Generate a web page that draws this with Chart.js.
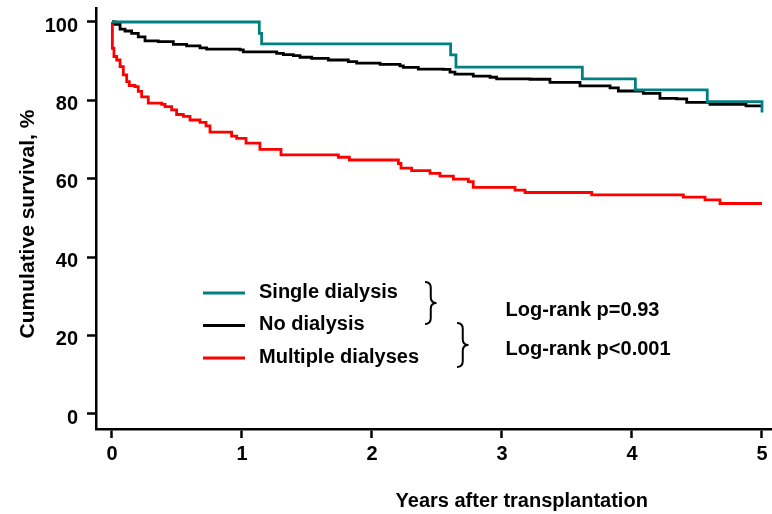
<!DOCTYPE html>
<html>
<head>
<meta charset="utf-8">
<script src="https://cdn.jsdelivr.net/npm/chart.js@4.4.1/dist/chart.umd.min.js"></script>
<style>
  html, body { margin: 0; padding: 0; background: #ffffff; }
  #wrap { width: 772px; height: 514px; }
</style>
</head>
<body>
<div id="wrap"><canvas id="c" width="772" height="514"></canvas></div>
<script>
// ---------------- data ----------------
const seriesLabels = ["Single dialysis", "No dialysis", "Multiple dialyses"];
const seriesColors = ["#008080", "#000000", "#ff0000"];

const singleT = [0, 1.133, 1.151, 2.605, 2.646, 3.618, 4.026, 4.579, 5.0];
const singleS = [100, 97.1, 94.4, 91.6, 88.5, 85.5, 82.7, 79.7, 76.9];

const noT = [0, 0.023, 0.062, 0.1, 0.151, 0.202, 0.254, 0.356, 0.472, 0.574, 0.677, 0.728,
  0.985, 1.01, 1.267, 1.318, 1.395, 1.446, 1.536, 1.664, 1.818, 1.882, 2.062, 2.215, 2.241,
  2.356, 2.549, 2.6, 2.638, 2.779, 2.908, 2.959, 3.215, 3.369, 3.6, 3.831, 3.895, 4.087,
  4.215, 4.344, 4.421, 4.6, 4.877, 5.0];
const noS = [100, 99.4, 98.2, 97.7, 97.1, 96.2, 95.2, 95.0, 94.3, 93.9, 93.4, 93.1,
  92.9, 92.4, 92.0, 91.7, 91.4, 91.0, 90.7, 90.3, 89.9, 89.5, 89.2, 88.8, 88.4,
  88.0, 87.9, 87.2, 86.7, 86.2, 85.9, 85.5, 85.4, 84.6, 83.7, 83.2, 82.4, 81.8,
  80.5, 80.4, 79.5, 79.0, 78.6, 78.6];

const multT = [0, 0.003, 0.015, 0.036, 0.062, 0.087, 0.113, 0.133, 0.177, 0.202, 0.228,
  0.279, 0.382, 0.408, 0.459, 0.497, 0.549, 0.6, 0.677, 0.723, 0.754, 0.92, 0.959, 1.031,
  1.138, 1.3, 1.741, 1.826, 2.203, 2.223, 2.305, 2.446, 2.523, 2.626, 2.741, 2.779, 3.1,
  3.177, 3.69, 4.395, 4.562, 4.677, 5.0];
const multS = [100, 93.3, 91.2, 90.3, 88.6, 86.5, 84.8, 83.8, 83.5, 82.3, 80.9,
  79.3, 79.0, 78.4, 77.6, 76.4, 75.9, 75.0, 74.4, 73.5, 71.9, 70.9, 70.3, 69.1,
  67.5, 66.1, 65.5, 64.8, 63.9, 62.7, 62.1, 61.4, 60.7, 59.9, 59.3, 57.8, 57.1,
  56.5, 55.9, 55.3, 54.6, 53.7, 53.7];

const xTicks = [0, 1, 2, 3, 4, 5];
const yTicks = [0, 20, 40, 60, 80, 100];
const xTitle = "Years after transplantation";
const yTitle = "Cumulative survival, %";
const pTexts = ["Log-rank p=0.93", "Log-rank p<0.001"];

// ---------------- chart ----------------
const FONT = '"Liberation Sans", Arial, sans-serif';
function pts(t, s) { return t.map((v, i) => ({ x: v, y: s[i] })); }
const seriesData = [pts(singleT, singleS), pts(noT, noS), pts(multT, multS)];

const datasets = seriesData.map((d, i) => ({
  label: seriesLabels[i],
  data: d,
  showLine: true,
  stepped: true,
  borderColor: seriesColors[i],
  backgroundColor: seriesColors[i],
  borderWidth: 2.8,
  pointRadius: 0,
  fill: false
}));

const overlay = {
  id: 'overlay',
  afterDraw(chart) {
    const ctx = chart.ctx;
    ctx.save();
    ctx.fillStyle = '#000';
    // legend
    const rows = [293, 325.5, 358];
    chart.data.datasets.forEach((ds, i) => {
      const y = rows[i];
      ctx.strokeStyle = ds.borderColor;
      ctx.lineWidth = 2.8;
      ctx.beginPath();
      ctx.moveTo(203, y);
      ctx.lineTo(245, y);
      ctx.stroke();
      ctx.fillStyle = '#000';
      ctx.font = 'bold 20px ' + FONT;
      ctx.textAlign = 'left';
      ctx.textBaseline = 'alphabetic';
      ctx.fillText(ds.label, 259, y + 4.5);
    });
    // braces
    function brace(x0, top, bottom, w) {
      const xm = x0 + w * 0.5, mid = (top + bottom) / 2, r = w * 0.5;
      ctx.beginPath();
      ctx.moveTo(x0, top);
      ctx.quadraticCurveTo(xm, top, xm, top + r);
      ctx.lineTo(xm, mid - r);
      ctx.quadraticCurveTo(xm, mid, x0 + w, mid);
      ctx.quadraticCurveTo(xm, mid, xm, mid + r);
      ctx.lineTo(xm, bottom - r);
      ctx.quadraticCurveTo(xm, bottom, x0, bottom);
      ctx.stroke();
    }
    ctx.strokeStyle = '#000';
    ctx.lineWidth = 2;
    brace(425, 282, 324, 11.5);
    brace(457, 323, 367, 11.5);
    // log-rank texts
    ctx.font = 'bold 20px ' + FONT;
    ctx.textAlign = 'left';
    ctx.fillText(pTexts[0], 505.5, 315.7);
    ctx.fillText(pTexts[1], 505.5, 355);
    // axis titles
    ctx.font = 'bold 20px ' + FONT;
    ctx.textAlign = 'center';
    ctx.fillText(xTitle, 521.7, 507);
    ctx.translate(34, 224);
    ctx.rotate(-Math.PI / 2);
    ctx.font = 'bold 21px ' + FONT;
    ctx.fillText(yTitle, 0, 0);
    ctx.restore();
  }
};

new Chart(document.getElementById('c'), {
  type: 'scatter',
  data: { datasets },
  options: {
    responsive: false,
    animation: false,
    layout: { padding: { top: 8, right: 0, left: 0, bottom: 0 } },
    plugins: { legend: { display: false }, tooltip: { enabled: false } },
    scales: {
      x: {
        type: 'linear',
        min: -0.123,
        max: 5.077,
        afterBuildTicks(scale) { scale.ticks = xTicks.map(v => ({ value: v })); },
        afterFit(scale) { scale.height = 85; scale.paddingLeft = 0; scale.paddingRight = 0; },
        grid: { drawOnChartArea: false, drawTicks: true, tickLength: 9, tickWidth: 2.5, tickColor: '#000' },
        border: { display: true, color: '#000', width: 2.5 },
        ticks: { color: '#000', padding: 4, maxRotation: 0, autoSkip: false, font: { family: FONT, size: 20, weight: 'bold' } }
      },
      y: {
        type: 'linear',
        min: -3.83,
        max: 103.57,
        afterBuildTicks(scale) { scale.ticks = yTicks.map(v => ({ value: v })); },
        afterFit(scale) { scale.width = 96; scale.paddingTop = 0; scale.paddingBottom = 0; },
        grid: { drawOnChartArea: false, drawTicks: true, tickLength: 9, tickWidth: 2.5, tickColor: '#000' },
        border: { display: true, color: '#000', width: 2.5 },
        ticks: { color: '#000', padding: 9, labelOffset: 4, autoSkip: false, font: { family: FONT, size: 20, weight: 'bold' } }
      }
    }
  },
  plugins: [overlay]
});
</script>
</body>
</html>
